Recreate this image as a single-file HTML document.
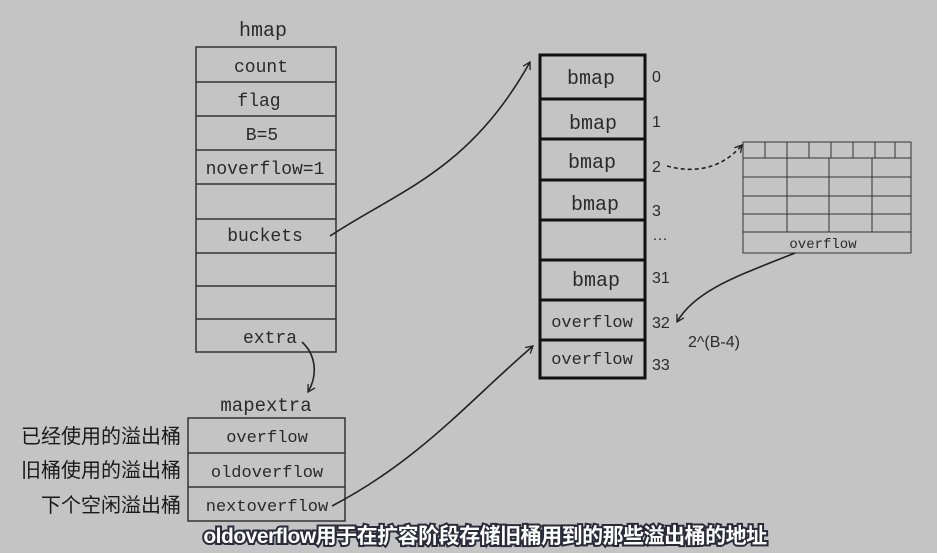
<!DOCTYPE html>
<html><head><meta charset="utf-8"><style>
html,body{margin:0;padding:0;background:#c4c4c4;}
svg{display:block}
.m{font-family:"Liberation Mono","DejaVu Sans Mono",monospace;fill:#2a2a2a}
.s{font-family:"Liberation Sans","DejaVu Sans",sans-serif;fill:#2a2a2a}
.c{font-family:"Liberation Sans","Noto Sans CJK SC",sans-serif;fill:#1a1a1a}
</style></head><body>
<svg width="937" height="553" viewBox="0 0 937 553" xmlns="http://www.w3.org/2000/svg">
<rect width="937" height="553" fill="#c4c4c4"/>
<defs>
<marker id="a" markerWidth="10" markerHeight="10" refX="8" refY="5" orient="auto" markerUnits="userSpaceOnUse"><path d="M1,1 L8,5 L1,9" fill="none" stroke="#222" stroke-width="1.3"/></marker>
</defs>
<text x="263" y="36" class="m" font-size="20" text-anchor="middle">hmap</text>
<g fill="none" stroke="#333" stroke-width="1.5">
<rect x="196" y="47" width="140" height="305"/>
<path d="M196 82H336M196 116H336M196 150H336M196 184H336M196 219H336M196 253H336M196 286H336M196 319H336"/>
</g>
<g class="m" font-size="18" text-anchor="middle">
<text x="261" y="72">count</text>
<text x="259" y="106">flag</text>
<text x="262" y="140">B=5</text>
<text x="265" y="174">noverflow=1</text>
<text x="265" y="241">buckets</text>
<text x="270" y="343">extra</text>
</g>
<text x="266" y="411" class="m" font-size="19" text-anchor="middle">mapextra</text>
<g fill="none" stroke="#333" stroke-width="1.5">
<rect x="188" y="418" width="157" height="103"/>
<path d="M188 453H345M188 487H345"/>
</g>
<g class="m" font-size="17" text-anchor="middle">
<text x="267" y="442">overflow</text>
<text x="267" y="477">oldoverflow</text>
<text x="267" y="511">nextoverflow</text>
</g>
<g class="c" font-size="20" text-anchor="end">
<text x="181" y="443">已经使用的溢出桶</text>
<text x="181" y="477">旧桶使用的溢出桶</text>
<text x="181" y="512">下个空闲溢出桶</text>
</g>
<g fill="none" stroke="#111" stroke-width="3">
<rect x="540" y="55" width="105" height="323"/>
<path d="M540 99H645M540 139H645M540 180H645M540 220H645M540 260H645M540 300H645M540 340H645"/>
</g>
<g class="m" font-size="20" text-anchor="middle">
<text x="591" y="84">bmap</text>
<text x="593" y="129">bmap</text>
<text x="592" y="168">bmap</text>
<text x="595" y="210">bmap</text>
<text x="596" y="286">bmap</text>
</g>
<g class="m" font-size="17" text-anchor="middle">
<text x="592" y="327">overflow</text>
<text x="592" y="364">overflow</text>
</g>
<g class="s" font-size="16">
<text x="652" y="82">0</text>
<text x="652" y="127">1</text>
<text x="652" y="172">2</text>
<text x="652" y="216">3</text>
<text x="652" y="240">…</text>
<text x="652" y="283">31</text>
<text x="652" y="328">32</text>
<text x="652" y="370">33</text>
<text x="688" y="347">2^(B-4)</text>
</g>
<g fill="none" stroke="#333" stroke-width="1">
<rect x="743" y="142" width="168" height="111"/>
<path d="M743 158H911M743 177H911M743 196H911M743 214H911M743 232H911"/>
<path d="M765 142V158M787 142V158M809 142V158M831 142V158M853 142V158M875 142V158M895 142V158"/>
<path d="M787 158V232M829 158V232M872 158V232"/>
</g>
<text x="823" y="248" class="m" font-size="14" text-anchor="middle">overflow</text>
<g fill="none" stroke="#222" stroke-width="1.6">
<path d="M330 236 C400 190, 470 170, 530 62" marker-end="url(#a)"/>
<path d="M302 342 C316 355, 318 375, 308 392" marker-end="url(#a)"/>
<path d="M332 506 C420 460, 470 400, 533 346" marker-end="url(#a)"/>
<path d="M667 166 C700 175, 725 165, 742 145" stroke-dasharray="4,3" marker-end="url(#a)"/>
<path d="M795 253 C740 275, 695 290, 677 322" marker-end="url(#a)"/>
</g>
<text x="485" y="543" text-anchor="middle" font-size="21" font-family="'Liberation Sans','Noto Sans CJK SC',sans-serif" font-weight="bold" fill="#fff" stroke="#2a2a3a" stroke-width="4" paint-order="stroke" letter-spacing="-0.5">oldoverflow用于在扩容阶段存储旧桶用到的那些溢出桶的地址</text>
</svg>
</body></html>
